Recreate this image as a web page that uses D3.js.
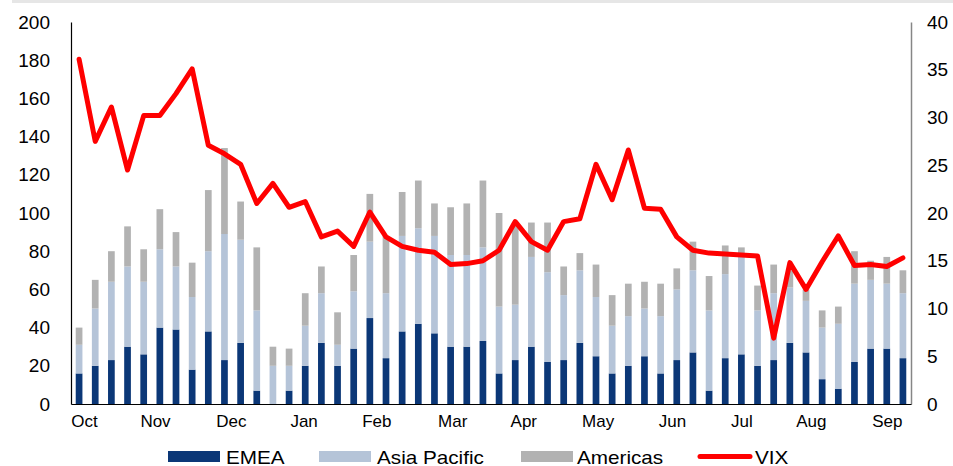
<!DOCTYPE html>
<html>
<head>
<meta charset="utf-8">
<script src="https://cdn.jsdelivr.net/npm/d3@7"></script>
<style>
  html, body { margin: 0; padding: 0; background: #fff; }
  svg { display: block; font-family: "Liberation Sans", Arial, sans-serif; }
</style>
</head>
<body>
<svg id="chart" width="953" height="466"></svg>
<script>
// Weekly deal counts by region (stacked bars, left axis)
const emea = [16,20,23,30,26,40,39,18,38,23,32,7,0,7,20,32,20,29,45,24,38,42,37,30,30,33,16,23,30,22,23,32,25,16,20,25,16,23,27,7,24,26,20,23,32,27,13,8,22,29,29,24];
const asiaPacific = [15,30,41,42,38,41,33,38,42,66,54,42,20,13,21,26,11,30,40,34,50,50,51,48,48,49,35,29,47,47,34,38,31,25,26,25,30,37,43,42,44,51,29,35,29,27,27,34,41,36,34,34];
const americas = [9,15,16,21,17,21,18,18,32,45,20,33,10,9,17,14,17,19,25,30,23,25,17,25,27,35,49,43,18,26,15,9,17,16,17,14,17,11,15,18,15,5,13,15,9,6,9,9,17,10,14,12];
// Weekly VIX level (line, right axis)
const vix = [36.1,27.5,31.1,24.5,30.2,30.2,32.5,35.1,27.1,26.2,25.1,21.0,23.1,20.6,21.2,17.5,18.1,16.5,20.1,17.5,16.5,16.1,15.9,14.6,14.7,15.0,16.1,19.1,17.0,16.1,19.1,19.4,25.1,21.4,26.6,20.5,20.4,17.5,16.1,15.8,15.7,15.6,15.5,6.9,14.8,12.0,14.9,17.6,14.5,14.6,14.4,15.3];
// Month labels and the week (index) at which each one sits
const monthLabels = ["Oct","Nov","Dec","Jan","Feb","Mar","Apr","May","Jun","Jul","Aug","Sep"];
const monthWeek = [0.3,4.7,9.4,13.9,18.4,23.1,27.5,32.1,36.7,41.0,45.3,50.0];
const leftTicks = [0,20,40,60,80,100,120,140,160,180,200];
const rightTicks = [0,5,10,15,20,25,30,35,40];
const seriesNames = ["EMEA","Asia Pacific","Americas"];
const seriesColors = ["#0b3777","#b5c4d8","#b2b2b2"];
const vixColor = "#ff0000";

const svg = d3.select("#chart");
const plotLeft = 71, plotRight = 911, plotTop = 22, plotBottom = 404;

// thin grey strip along the top edge
svg.append("rect").attr("x", 12).attr("y", 0).attr("width", 941).attr("height", 3).attr("fill", "#e6e6e6");

const idx = d3.range(emea.length);
const pad = 0.585;
const x = d3.scaleBand().domain(idx).range([plotLeft, plotRight]).paddingInner(pad).paddingOuter(pad / 2);
const xw = d3.scaleLinear().domain([-0.5, emea.length - 0.5]).range([plotLeft, plotRight]);
const y = d3.scaleLinear().domain([0, 200]).range([plotBottom, plotTop]);
const yr = d3.scaleLinear().domain([0, 40]).range([plotBottom, plotTop]);

const rows = idx.map(i => ({ i, EMEA: emea[i], "Asia Pacific": asiaPacific[i], Americas: americas[i] }));
const stack = d3.stack().keys(seriesNames)(rows);

svg.append("g").selectAll("g").data(stack).join("g")
  .attr("fill", (d, k) => seriesColors[k])
  .selectAll("rect").data(d => d).join("rect")
  .attr("x", d => x(d.data.i))
  .attr("width", x.bandwidth())
  .attr("y", d => y(d[1]))
  .attr("height", d => y(d[0]) - y(d[1]));

// VIX line
const line = d3.line().x((d, i) => x(i) + x.bandwidth() / 2).y(d => yr(d));
svg.append("path").datum(vix)
  .attr("d", line).attr("fill", "none").attr("stroke", vixColor)
  .attr("stroke-width", 5).attr("stroke-linejoin", "round").attr("stroke-linecap", "round");

// Left axis
const gl = svg.append("g").attr("transform", `translate(${plotLeft},0)`)
  .call(d3.axisLeft(y).tickValues(leftTicks).tickSize(0).tickPadding(21));
gl.select(".domain").attr("stroke", "#000").attr("stroke-width", 1.2);
gl.selectAll("text").attr("font-size", 19).attr("fill", "#000").attr("font-family", "Liberation Sans, Arial, sans-serif");

// Right axis
const gr = svg.append("g").attr("transform", `translate(${plotRight},0)`)
  .call(d3.axisRight(yr).tickValues(rightTicks).tickSize(0).tickPadding(16));
gr.select(".domain").attr("stroke", "#868686").attr("stroke-width", 1.5);
gr.selectAll("text").attr("font-size", 19).attr("fill", "#000").attr("font-family", "Liberation Sans, Arial, sans-serif");

// Bottom axis with month labels
const gb = svg.append("g").attr("transform", `translate(0,${plotBottom})`)
  .call(d3.axisBottom(xw).tickValues(monthWeek).tickFormat((d, k) => monthLabels[k]).tickSize(0).tickPadding(11));
gb.select(".domain").attr("stroke", "#000").attr("stroke-width", 1.2);
gb.selectAll("text").attr("font-size", 17).attr("fill", "#000").attr("font-family", "Liberation Sans, Arial, sans-serif");

// Legend
const legend = [
  { name: "EMEA", type: "rect", color: seriesColors[0], sx: 168, tx: 226 },
  { name: "Asia Pacific", type: "rect", color: seriesColors[1], sx: 319, tx: 377 },
  { name: "Americas", type: "rect", color: seriesColors[2], sx: 521, tx: 577 },
  { name: "VIX", type: "line", color: vixColor, sx: 700, tx: 755 }
];
const lg = svg.append("g");
legend.forEach(it => {
  if (it.type === "rect") {
    lg.append("rect").attr("x", it.sx).attr("y", 451).attr("width", 52).attr("height", 11).attr("fill", it.color);
  } else {
    lg.append("line").attr("x1", it.sx).attr("x2", it.sx + 50).attr("y1", 456.5).attr("y2", 456.5)
      .attr("stroke", it.color).attr("stroke-width", 5).attr("stroke-linecap", "round");
  }
  lg.append("text").attr("transform", `translate(${it.tx},463.5) scale(1.15,1)`)
    .attr("font-size", 18).attr("fill", "#000").text(it.name);
});
</script>
</body>
</html>
